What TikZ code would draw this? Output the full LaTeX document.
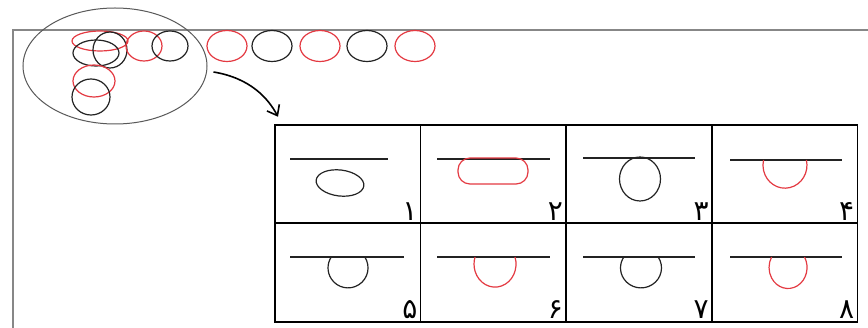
\documentclass[tikz,border=0pt]{standalone}
\usepackage{fontspec}
\usepackage{tikz}
\usetikzlibrary{positioning}
\usetikzlibrary{shapes.geometric}
\usetikzlibrary{arrows.meta}
\usepackage{xcolor}
\newfontfamily\arabicfont[Script=Arabic]{DejaVu Sans}
\definecolor{penred}{RGB}{228,58,66}
\definecolor{penblack}{RGB}{35,35,35}
\definecolor{framegray}{RGB}{135,135,135}

\begin{document}
\begin{tikzpicture}[
    x=1pt, y=-1pt,
    cell/.style={rectangle, draw, line width=1.6pt, minimum width=145.6pt, minimum height=98.5pt, inner sep=0pt, outer sep=0pt},
    surface/.style={draw=penblack, line width=1.1pt},
    redring/.style={draw=penred, line width=1.2pt},
    blackring/.style={draw=penblack, line width=1.2pt},
    num/.style={font=\arabicfont\fontsize{28}{28}\selectfont, anchor=south east, inner sep=3pt},
    arrow/.style={-{Straight Barb[length=9pt, width=14pt]}, line width=1.6pt}
]
    \useasboundingbox[fill=white] (0,0) rectangle (868,328);

    % Frame of the page
    \draw[framegray, line width=1.4pt] (13,328) -- (13,30) -- (868,30);

    % Drops in a row along the top
    \draw[redring] (100,41) ellipse [x radius=28, y radius=10];
    \draw[blackring] (96,53) ellipse [x radius=23, y radius=13];
    \draw[blackring] (110,50) ellipse [x radius=17, y radius=18];
    \draw[redring] (144,46) ellipse [x radius=18, y radius=15];
    \draw[blackring] (170,46) ellipse [x radius=18, y radius=15];
    \draw[redring] (227,46) ellipse [x radius=20, y radius=15.5];
    \draw[blackring] (272,46) ellipse [x radius=20, y radius=15.5];
    \draw[redring] (320,46) ellipse [x radius=20, y radius=15.5];
    \draw[blackring] (367,46) ellipse [x radius=20, y radius=15.5];
    \draw[redring] (415,46) ellipse [x radius=20, y radius=15.5];
    \draw[redring] (94,81) ellipse [x radius=21, y radius=16];
    \draw[blackring] (91,97) ellipse [x radius=19, y radius=18];

    % Group that is zoomed in
    \node[ellipse, draw=black!65, line width=1pt, minimum width=184pt, minimum height=116pt] (grp) at (115,66) {};

    % Table of cases
    \node[cell] (c1) at (347.8,174) {};
    \node[cell] (c2) at (493.4,174) {};
    \node[cell] (c3) at (639.0,174) {};
    \node[cell] (c4) at (784.6,174) {};
    \node[cell] (c5) at (347.8,272.5) {};
    \node[cell] (c6) at (493.4,272.5) {};
    \node[cell] (c7) at (639.0,272.5) {};
    \node[cell] (c8) at (784.6,272.5) {};

    % Arrow to the table
    \draw[arrow] ([shift={(6,6)}]grp.east) .. controls (250,78) and (268,98) .. ([shift={(3,-8)}]c1.north west);

    % Surfaces
    \draw[surface] (290,159) -- (388,159);
    \draw[surface] (437,159) -- (550,159);
    \draw[surface] (583,158) -- (695,158);
    \draw[surface] (730,160) -- (842,160);
    \draw[surface] (290,257) -- (404,257);
    \draw[surface] (437,257) -- (550,257);
    \draw[surface] (583,257) -- (695,257);
    \draw[surface] (730,257) -- (842,257);

    % Drops on the surfaces
    \draw[blackring, rotate around={-7:(340,183)}] (340,183) ellipse [x radius=24, y radius=13];
    \draw[redring, rounded corners=12pt] (458,158) rectangle (528,184);
    \draw[blackring] (640,179) ellipse [x radius=20.5, y radius=22];
    \draw[redring] (806.4,160) arc [start angle=-13, end angle=193, x radius=22, y radius=23];
    \draw[blackring] (364.8,257) arc [start angle=-33, end angle=213, radius=20];
    \draw[redring] (515,257) arc [start angle=-18, end angle=198, x radius=21, y radius=23];
    \draw[blackring] (658.2,257) arc [start angle=-33, end angle=213, x radius=20.5, y radius=20];
    \draw[redring] (804.5,257) arc [start angle=-30, end angle=210, x radius=19, y radius=21];

    % Labels
    \node[num] (n1) at (c1.south east) {۱};
    \node[num] (n2) at (c2.south east) {۲};
    \node[num] (n3) at (c3.south east) {۳};
    \node[num] (n4) at (c4.south east) {۴};
    \node[num] (n5) at (c5.south east) {۵};
    \node[num] (n6) at (c6.south east) {۶};
    \node[num] (n7) at (c7.south east) {۷};
    \node[num] (n8) at (c8.south east) {۸};
\end{tikzpicture}
\end{document}
